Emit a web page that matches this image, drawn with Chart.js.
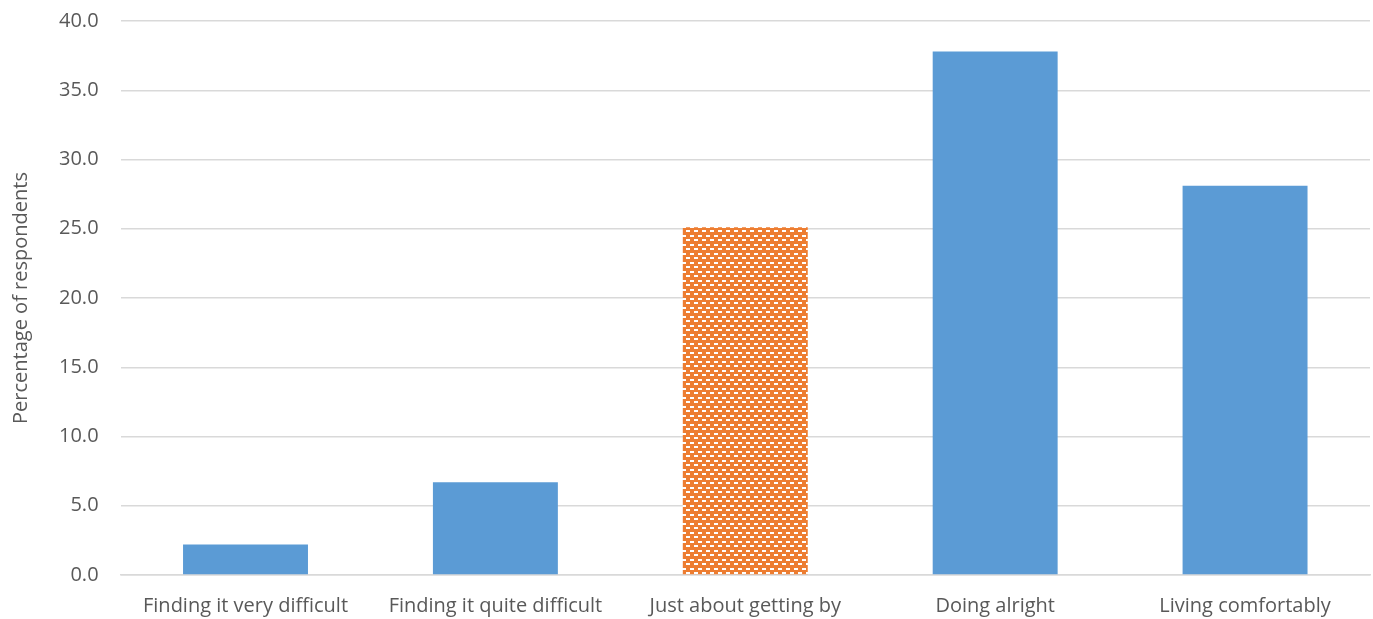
<!DOCTYPE html>
<html>
<head>
<meta charset="utf-8">
<script src="https://cdn.jsdelivr.net/npm/chart.js@4.4.0/dist/chart.umd.min.js"></script>
<style>
html,body{margin:0;padding:0;background:#fff;}
#wrap{width:1373px;height:619px;position:relative;}
</style>
</head>
<body>
<div id="wrap"><canvas id="c" width="1373" height="619"></canvas></div>
<script>
const categories = ["Finding it very difficult","Finding it quite difficult","Just about getting by","Doing alright","Living comfortably"];
const values = [2.2, 6.7, 25.1, 37.8, 28.1];
const highlightIndex = 2;
const yTitle = "Percentage of respondents";

function makePattern(){
  const p = document.createElement('canvas');
  p.width = 8; p.height = 9;
  const g = p.getContext('2d');
  g.fillStyle = '#ED7D31';
  g.fillRect(0,0,8,9);
  g.fillStyle = '#ffffff';
  g.fillRect(2,1,4,2);
  g.fillRect(6,5,4,2);
  g.fillRect(-2,5,4,2);
  return g.createPattern(p,'repeat');
}
const pattern = makePattern();
const FONT = "'Open Sans', sans-serif";

new Chart(document.getElementById('c'), {
  type: 'bar',
  data: {
    labels: categories,
    datasets: [{
      data: values,
      backgroundColor: values.map((v,i)=> i===highlightIndex ? pattern : '#5B9BD5'),
      borderWidth: 0,
      categoryPercentage: 1.0,
      barPercentage: 0.5
    }]
  },
  options: {
    responsive: false,
    animation: false,
    devicePixelRatio: 1,
    layout: { padding: { top: 21, right: 3, left: 9, bottom: 0 } },
    plugins: { legend: { display: false }, tooltip: { enabled: false } },
    scales: {
      x: {
        afterFit: s => { s.height = 44; s.paddingLeft = 0; s.paddingRight = 0; },
        grid: { display: false, drawTicks: false },
        border: { display: true, color: '#d9d9d9', width: 1.5 },
        ticks: { color: '#595959', font: { family: FONT, size: 20 }, padding: 19, maxRotation: 0, autoSkip: false }
      },
      y: {
        min: 0, max: 40,
        afterFit: s => { s.paddingTop = 0; s.paddingBottom = 0; },
        grid: { color: '#d9d9d9', lineWidth: 1.5, drawTicks: false },
        border: { display: false },
        ticks: { stepSize: 5, color: '#595959', font: { family: FONT, size: 20 }, padding: 22,
          callback: v => Number(v).toFixed(1) },
        title: { display: true, text: yTitle, color: '#595959', font: { family: FONT, size: 20 }, padding: { top: 0, bottom: 4 } }
      }
    }
  }
});
</script>
</body>
</html>
